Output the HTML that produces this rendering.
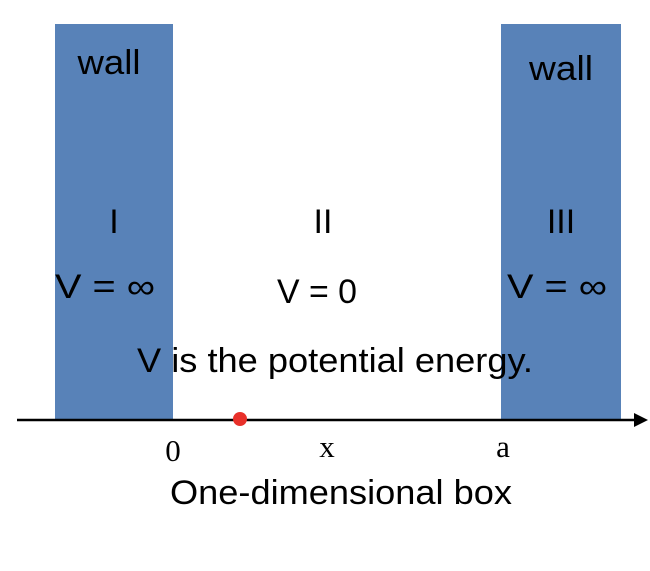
<!DOCTYPE html>
<html><head><style>
body{margin:0;background:#fff;}
svg text{font-family:"Liberation Sans",sans-serif;font-size:34px;fill:#000;}
svg text.s{font-family:"Liberation Serif",serif;font-size:31px;}
</style></head><body>
<svg width="650" height="566" xmlns="http://www.w3.org/2000/svg">
<rect x="55" y="24" width="118" height="396" fill="#5882b8"/>
<rect x="501" y="24" width="120" height="396" fill="#5882b8"/>
<line x1="17" y1="420" x2="636" y2="420" stroke="#000" stroke-width="2.5"/>
<polygon points="648,420 634,413 634,427" fill="#000"/>
<circle cx="240" cy="419" r="7" fill="#e8302a"/>
<g text-anchor="middle">
<text x="109" y="74" textLength="63" lengthAdjust="spacingAndGlyphs">wall</text>
<text x="561" y="80" textLength="64" lengthAdjust="spacingAndGlyphs">wall</text>
<text x="114" y="233">I</text>
<text x="323" y="233">II</text>
<text x="561" y="233">III</text>
<text x="105" y="298" textLength="100" lengthAdjust="spacingAndGlyphs">V = ∞</text>
<text x="317" y="303" textLength="80" lengthAdjust="spacingAndGlyphs">V = 0</text>
<text x="557" y="298" textLength="100" lengthAdjust="spacingAndGlyphs">V = ∞</text>
<text x="335" y="372" textLength="396" lengthAdjust="spacingAndGlyphs">V is the potential energy.</text>
<text class="s" x="173" y="461">0</text>
<text class="s" x="327" y="457">x</text>
<text class="s" x="503" y="457">a</text>
<text x="341" y="504" textLength="342" lengthAdjust="spacingAndGlyphs">One-dimensional box</text>
</g>
</svg>
</body></html>
